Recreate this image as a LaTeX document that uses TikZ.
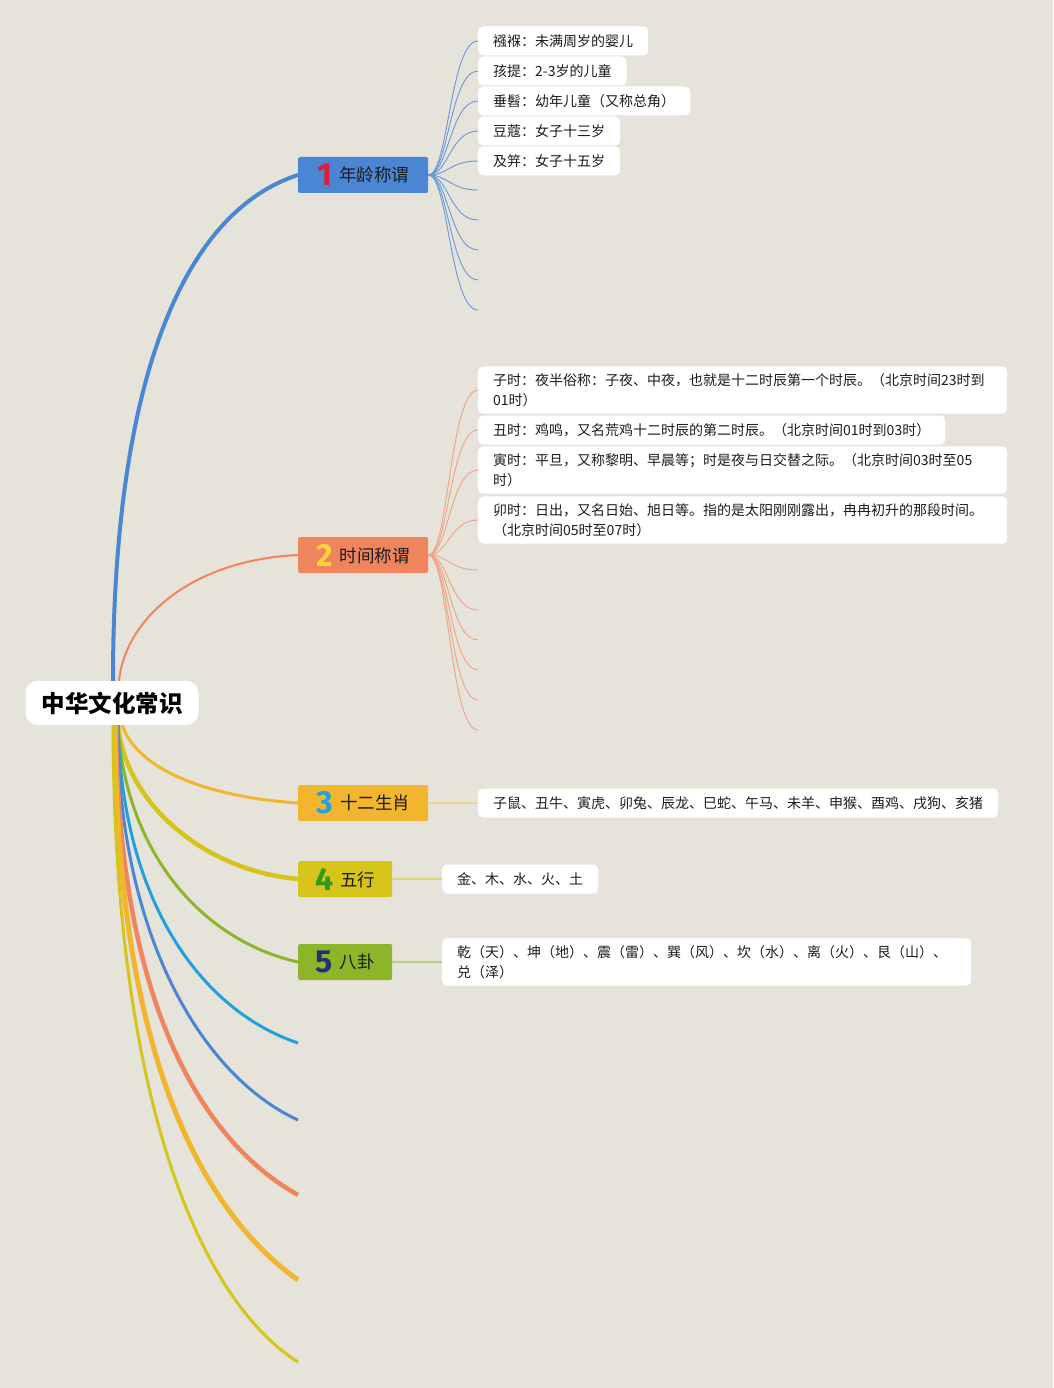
\documentclass[tikz,border=0pt]{standalone}
\usepackage{fontspec}
\setmainfont{Noto Sans CJK SC}
\newfontfamily\numfont{Fira Sans}
\usetikzlibrary{calc}
\definecolor{bg}{HTML}{E6E3DB}
\definecolor{cblue}{HTML}{4A86D4}
\definecolor{csalmon}{HTML}{F0845C}
\definecolor{corange}{HTML}{F2B52E}
\definecolor{colive}{HTML}{D6C41A}
\definecolor{cgreen}{HTML}{8CB52A}
\definecolor{ccyan}{HTML}{22A0DC}
\definecolor{nred}{HTML}{D9203A}
\definecolor{nyellow}{HTML}{F8D63A}
\definecolor{ncyan}{HTML}{2AA0DA}
\definecolor{ngreen}{HTML}{2E9A1E}
\definecolor{nnavy}{HTML}{26307A}
\definecolor{txt}{HTML}{1C1C1C}
\definecolor{lsalmon}{HTML}{F0A282}
\definecolor{lorange}{HTML}{F0D58A}
\definecolor{lolive}{HTML}{E0D47A}
\definecolor{lgreen}{HTML}{B8CF80}
\tikzset{
  rootbox/.style={fill=white, rounded corners=12pt, minimum width=173pt, minimum height=44pt, inner sep=0pt, text=black, font=\fontsize{23.5}{28}\selectfont\bfseries},
  branchbox/.style={anchor=west, rounded corners=2pt, minimum height=36pt, inner sep=0pt, text=txt, font=\fontsize{17.5}{20}\selectfont},
  leafbox/.style={anchor=west, fill=white, rounded corners=5pt, inner xsep=15pt, inner ysep=7pt, minimum height=29pt, align=left, text=txt, font=\fontsize{14}{20}\selectfont},
  wideleaf/.style={leafbox, text width=499pt},
  leafline/.style={line width=0.9pt}
}
\newcommand{\bnum}[2]{\raisebox{-4pt}{\numfont\bfseries\fontsize{32}{32}\selectfont\color{#1}#2}\hspace{7pt}}
\begin{document}
\begin{tikzpicture}[x=1pt,y=-1pt]
\fill[bg] (0,0) rectangle (1053,1388);

% root
\node[rootbox] (root) at (112,703) {中华文化常识};

% branches
\node[branchbox, fill=cblue, minimum width=130pt] (b1) at (298,175) {\bnum{nred}{1}年龄称谓};
\node[branchbox, fill=csalmon, minimum width=130pt] (b2) at (298,555) {\bnum{nyellow}{2}时间称谓};
\node[branchbox, fill=corange, minimum width=130pt] (b3) at (298,803) {\bnum{ncyan}{3}十二生肖};
\node[branchbox, fill=colive, minimum width=94pt] (b4) at (298,879) {\bnum{ngreen}{4}五行};
\node[branchbox, fill=cgreen, minimum width=94pt] (b5) at (298,962) {\bnum{nnavy}{5}八卦};
\coordinate (e1) at (298,1043);
\coordinate (e2) at (298,1120);
\coordinate (e3) at (298,1195);
\coordinate (e4) at (298,1280);
\coordinate (e5) at (298,1362);

% root connectors
\draw[cblue, line width=4pt] ([xshift=1pt]root.north) .. controls (113,400) and (175,215) .. (b1.west);
\draw[csalmon, line width=2pt] ([xshift=7pt]root.north) .. controls (125,620) and (190,560) .. (b2.west);
\draw[corange, line width=3pt] ([xshift=10pt]root.south) .. controls (140,775) and (220,798) .. (b3.west);
\draw[colive, line width=4.5pt] ([xshift=6pt]root.south) .. controls (125,800) and (200,870) .. (b4.west);
\draw[cgreen, line width=3pt] ([xshift=6pt]root.south) .. controls (125,850) and (200,940) .. (b5.west);
\draw[ccyan, line width=3pt] ([xshift=6pt]root.south) .. controls (122,900) and (200,1010) .. (e1);
\draw[cblue, line width=3pt] ([xshift=5pt]root.south) .. controls (120,950) and (210,1080) .. (e2);
\draw[csalmon, line width=4.5pt] ([xshift=4pt]root.south) .. controls (118,1000) and (200,1140) .. (e3);
\draw[corange, line width=5pt] ([xshift=3pt]root.south) .. controls (116,1050) and (200,1210) .. (e4);
\draw[colive, line width=3pt] ([xshift=1pt]root.south) .. controls (114,1100) and (200,1300) .. (e5);

% branch 1 leaves
\node[leafbox] (l1a) at (478,41) {襁褓：未满周岁的婴儿};
\node[leafbox] (l1b) at (478,71) {孩提：2-3岁的儿童};
\node[leafbox] (l1c) at (478,101) {垂髫：幼年儿童（又称总角）};
\node[leafbox] (l1d) at (478,131) {豆蔻：女子十三岁};
\node[leafbox] (l1e) at (478,161) {及笄：女子十五岁};
\coordinate (l1f) at (478,190);
\coordinate (l1g) at (478,220);
\coordinate (l1h) at (478,250);
\coordinate (l1i) at (478,280);
\coordinate (l1j) at (478,310);
\foreach \t in {l1a,l1b,l1c,l1d,l1e}
  \draw[cblue!85!white, leafline] (b1.east) .. controls +(20,0) and +(-28,0) .. (\t.west);
\foreach \t in {l1f,l1g,l1h,l1i,l1j}
  \draw[cblue!85!white, leafline] (b1.east) .. controls +(20,0) and +(-28,0) .. (\t);

% branch 2 leaves
\node[wideleaf] (l2a) at (478,390) {子时：夜半俗称：子夜、中夜，也就是十二时辰第一个时辰。（北京时间23时到\\01时）};
\node[leafbox] (l2b) at (478,430) {丑时：鸡鸣，又名荒鸡十二时辰的第二时辰。（北京时间01时到03时）};
\node[wideleaf] (l2c) at (478,470) {寅时：平旦，又称黎明、早晨等；时是夜与日交替之际。（北京时间03时至05\\时）};
\node[wideleaf] (l2d) at (478,520) {卯时：日出，又名日始、旭日等。指的是太阳刚刚露出，冉冉初升的那段时间。\\（北京时间05时至07时）};
\coordinate (l2e) at (478,570);
\coordinate (l2f) at (478,610);
\coordinate (l2g) at (478,640);
\coordinate (l2h) at (478,670);
\coordinate (l2i) at (478,700);
\coordinate (l2j) at (478,730);
\foreach \t in {l2a,l2b,l2c,l2d}
  \draw[lsalmon, leafline] (b2.east) .. controls +(20,0) and +(-28,0) .. (\t.west);
\foreach \t in {l2e,l2f,l2g,l2h,l2i,l2j}
  \draw[lsalmon, leafline] (b2.east) .. controls +(20,0) and +(-28,0) .. (\t);

% branch 3-5 leaves
\node[leafbox] (l3) at (478,803) {子鼠、丑牛、寅虎、卯兔、辰龙、巳蛇、午马、未羊、申猴、酉鸡、戌狗、亥猪};
\node[leafbox] (l4) at (442,879) {金、木、水、火、土};
\node[leafbox, text width=499pt] (l5) at (442,962) {乾（天）、坤（地）、震（雷）、巽（风）、坎（水）、离（火）、艮（山）、\\兑（泽）};
\draw[lorange, line width=1.5pt] (b3.east) -- (l3.west);
\draw[lolive, line width=1.5pt] (b4.east) -- (l4.west);
\draw[lgreen, line width=1.5pt] (b5.east) -- (l5.west);
\end{tikzpicture}
\end{document}
